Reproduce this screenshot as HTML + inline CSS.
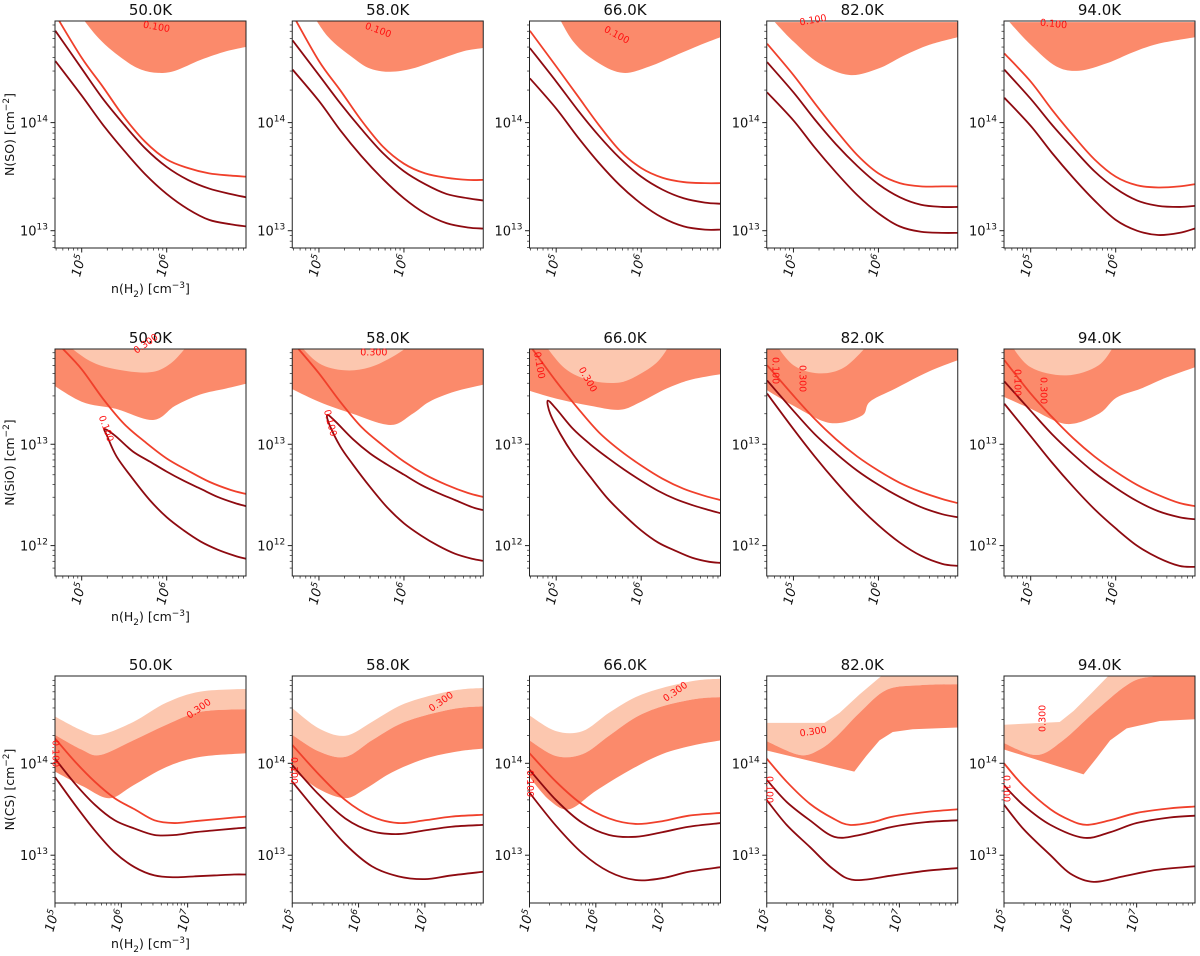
<!DOCTYPE html>
<html><head><meta charset="utf-8">
<style>
html,body{margin:0;padding:0;background:#fff;}
svg{display:block;font-family:"DejaVu Sans","Liberation Sans",sans-serif;}
</style></head>
<body>
<svg id="fig" width="1200" height="956" viewBox="0 0 1200 956" xmlns="http://www.w3.org/2000/svg"></svg>
<script>
// ---------- data ----------
const temps = ["50.0K","58.0K","66.0K","82.0K","94.0K"];
const species = ["SO","SiO","CS"];
const xRanges = [[4.686,6.933],[4.686,6.933],[5,7.88]];
const yRanges = [[12.84,14.94],[11.70,13.94],[12.48,14.95]];
const xTickDecades = [[5,6],[5,6],[5,6,7]];
const yTickDecades = [[13,14],[12,13],[13,14]];

// Row 1 (SO): lines on common grid
const soGrid = [4.69,5.0,5.25,5.5,5.75,6.0,6.25,6.5,6.75,6.93];
const soLight = [
 [15.0,14.6,14.33,14.05,13.82,13.66,13.58,13.53,13.51,13.5],
 [15.0,14.57,14.3,14.02,13.78,13.62,13.53,13.49,13.47,13.47],
 [14.85,14.52,14.25,13.98,13.74,13.58,13.49,13.45,13.44,13.44],
 [14.73,14.44,14.18,13.93,13.7,13.53,13.44,13.41,13.41,13.41],
 [14.64,14.38,14.12,13.88,13.66,13.5,13.42,13.4,13.41,13.43]];
const soMid = [
 [14.85,14.5,14.22,13.98,13.76,13.59,13.47,13.39,13.34,13.31],
 [14.76,14.44,14.18,13.94,13.72,13.55,13.43,13.34,13.3,13.28],
 [14.69,14.38,14.12,13.88,13.67,13.5,13.38,13.3,13.26,13.25],
 [14.56,14.28,14.03,13.8,13.6,13.43,13.31,13.24,13.22,13.22],
 [14.49,14.22,13.98,13.76,13.55,13.39,13.28,13.23,13.22,13.23]];
const soLow = [
 [14.57,14.25,13.98,13.74,13.52,13.34,13.2,13.1,13.06,13.04],
 [14.49,14.2,13.93,13.69,13.48,13.3,13.16,13.07,13.03,13.02],
 [14.41,14.13,13.87,13.63,13.42,13.25,13.12,13.04,13.01,13.01],
 [14.28,14.02,13.77,13.54,13.33,13.16,13.04,12.99,12.98,12.98],
 [14.23,13.97,13.72,13.49,13.28,13.1,13.0,12.96,12.98,13.02]];
const soFillBottom = [
 [[4.88,15.1],[5.2,14.78],[5.5,14.58],[5.7,14.49],[5.9,14.46],[6.1,14.48],[6.4,14.58],[6.7,14.66],[6.93,14.70]],
 [[4.85,15.1],[5.1,14.8],[5.4,14.6],[5.6,14.5],[5.84,14.47],[6.1,14.5],[6.4,14.58],[6.7,14.66],[6.93,14.69]],
 [[4.95,15.1],[5.2,14.75],[5.5,14.55],[5.79,14.46],[6.1,14.52],[6.4,14.62],[6.7,14.72],[6.93,14.79]],
 [[4.78,14.93],[5.0,14.75],[5.3,14.55],[5.66,14.44],[6.0,14.5],[6.3,14.62],[6.6,14.72],[6.93,14.79]],
 [[4.75,14.93],[5.0,14.72],[5.3,14.52],[5.57,14.48],[5.9,14.55],[6.2,14.65],[6.5,14.73],[6.93,14.79]]];
const soFillTop = [15.2,15.2,15.2,14.93,14.93];

// Row 2 (SiO)
const sioLight = [
 [[4.78,13.94],[5.0,13.74],[5.25,13.45],[5.5,13.2],[5.75,13.02],[6.0,12.86],[6.25,12.74],[6.5,12.63],[6.75,12.55],[6.93,12.51]],
 [[4.76,13.94],[5.0,13.7],[5.25,13.42],[5.5,13.17],[5.75,12.99],[6.0,12.83],[6.25,12.7],[6.5,12.6],[6.75,12.52],[6.93,12.48]],
 [[4.72,13.94],[5.0,13.62],[5.25,13.36],[5.5,13.12],[5.75,12.94],[6.0,12.79],[6.25,12.66],[6.5,12.56],[6.75,12.49],[6.93,12.45]],
 [[4.69,13.78],[5.0,13.48],[5.25,13.25],[5.5,13.05],[5.75,12.88],[6.0,12.74],[6.25,12.62],[6.5,12.53],[6.75,12.46],[6.93,12.42]],
 [[4.69,13.83],[5.0,13.5],[5.25,13.27],[5.5,13.06],[5.75,12.88],[6.0,12.73],[6.25,12.6],[6.5,12.5],[6.75,12.42],[6.93,12.39]]];
const sioMid = [
 [[5.27,13.15],[5.4,13.08],[5.6,12.93],[5.8,12.83],[6.0,12.73],[6.2,12.64],[6.4,12.56],[6.6,12.48],[6.8,12.42],[6.93,12.39]],
 [[5.1,13.29],[5.2,13.22],[5.4,13.05],[5.6,12.91],[5.8,12.8],[6.0,12.7],[6.2,12.6],[6.4,12.52],[6.6,12.45],[6.8,12.38],[6.93,12.35]],
 [[4.9,13.43],[5.0,13.35],[5.2,13.15],[5.4,13.0],[5.6,12.87],[5.8,12.75],[6.0,12.64],[6.2,12.54],[6.4,12.46],[6.6,12.4],[6.8,12.35],[6.93,12.32]],
 [[4.69,13.63],[5.0,13.33],[5.25,13.1],[5.5,12.91],[5.75,12.74],[6.0,12.6],[6.25,12.48],[6.5,12.38],[6.75,12.31],[6.93,12.28]],
 [[4.69,13.62],[5.0,13.33],[5.25,13.1],[5.5,12.9],[5.75,12.72],[6.0,12.57],[6.25,12.44],[6.5,12.34],[6.75,12.28],[6.93,12.26]]];
const sioLow = [
 [[5.27,13.15],[5.3,13.08],[5.41,12.88],[5.6,12.66],[5.8,12.45],[6.0,12.28],[6.2,12.15],[6.4,12.04],[6.6,11.96],[6.8,11.9],[6.93,11.87]],
 [[5.1,13.29],[5.12,13.2],[5.25,12.98],[5.4,12.8],[5.6,12.58],[5.8,12.38],[6.0,12.22],[6.2,12.1],[6.4,12.0],[6.6,11.92],[6.8,11.87],[6.93,11.85]],
 [[4.9,13.43],[4.93,13.3],[5.05,13.1],[5.2,12.9],[5.4,12.68],[5.6,12.47],[5.8,12.3],[6.0,12.15],[6.2,12.03],[6.4,11.95],[6.6,11.88],[6.8,11.84],[6.93,11.83]],
 [[4.69,13.5],[5.0,13.15],[5.25,12.88],[5.5,12.63],[5.75,12.4],[6.0,12.2],[6.25,12.03],[6.5,11.9],[6.75,11.82],[6.93,11.8]],
 [[4.69,13.4],[5.0,13.08],[5.25,12.82],[5.5,12.58],[5.75,12.36],[6.0,12.17],[6.25,12.0],[6.5,11.88],[6.75,11.8],[6.93,11.79]]];
const sioDarkBottom = [
 [[4.6,13.62],[5.0,13.42],[5.4,13.35],[5.84,13.24],[6.1,13.38],[6.39,13.49],[6.7,13.55],[7.0,13.61]],
 [[4.6,13.58],[5.0,13.42],[5.4,13.3],[5.84,13.19],[6.1,13.3],[6.3,13.42],[6.6,13.52],[7.0,13.6]],
 [[4.6,13.55],[5.0,13.45],[5.4,13.38],[5.75,13.34],[6.0,13.42],[6.3,13.55],[6.6,13.64],[7.0,13.7]],
 [[4.6,13.58],[5.0,13.38],[5.43,13.21],[5.8,13.28],[5.9,13.42],[6.2,13.55],[6.6,13.72],[7.0,13.85]],
 [[4.6,13.5],[5.0,13.35],[5.42,13.2],[5.8,13.3],[6.01,13.46],[6.3,13.55],[6.6,13.66],[7.0,13.78]]];
const sioLightBottom = [
 [[4.8,14.0],[5.1,13.82],[5.4,13.74],[5.8,13.71],[6.05,13.8],[6.27,14.0]],
 [[4.75,14.0],[5.0,13.8],[5.3,13.73],[5.6,13.76],[5.9,13.88],[6.1,14.0]],
 [[4.85,14.0],[5.1,13.75],[5.4,13.63],[5.75,13.61],[6.0,13.7],[6.2,13.82],[6.35,14.0]],
 [[4.78,14.0],[5.0,13.78],[5.3,13.7],[5.6,13.76],[5.9,14.0]],
 [[4.75,14.0],[5.0,13.76],[5.42,13.68],[5.8,13.78],[6.0,14.0]]];

// Row 3 (CS)
const csLight = [
 [[5,14.27],[5.3,14.02],[5.6,13.8],[5.9,13.62],[6.2,13.5],[6.5,13.38],[6.8,13.35],[7.1,13.37],[7.4,13.39],[7.7,13.41],[7.88,13.42]],
 [[5,14.2],[5.4,13.88],[5.8,13.6],[6.2,13.42],[6.6,13.35],[7.0,13.38],[7.4,13.42],[7.88,13.44]],
 [[5,14.11],[5.4,13.8],[5.8,13.55],[6.2,13.4],[6.6,13.34],[7.0,13.37],[7.4,13.43],[7.88,13.46]],
 [[5,14.05],[5.3,13.8],[5.65,13.56],[6.0,13.4],[6.25,13.33],[6.6,13.36],[6.9,13.42],[7.4,13.47],[7.88,13.5]],
 [[5,14.0],[5.3,13.75],[5.7,13.5],[6.0,13.38],[6.25,13.33],[6.6,13.38],[7.0,13.46],[7.5,13.51],[7.88,13.53]]];
const csMid = [
 [[5,14.05],[5.3,13.78],[5.6,13.55],[5.9,13.38],[6.2,13.29],[6.5,13.22],[6.8,13.22],[7.1,13.25],[7.4,13.27],[7.7,13.29],[7.88,13.3]],
 [[5,13.98],[5.4,13.66],[5.8,13.4],[6.2,13.26],[6.6,13.23],[7.0,13.27],[7.4,13.31],[7.88,13.33]],
 [[5,13.93],[5.4,13.6],[5.8,13.35],[6.2,13.22],[6.6,13.2],[7.0,13.25],[7.4,13.31],[7.88,13.35]],
 [[5,13.82],[5.3,13.58],[5.65,13.38],[6.02,13.2],[6.4,13.22],[6.9,13.31],[7.4,13.36],[7.88,13.38]],
 [[5,13.76],[5.3,13.54],[5.7,13.33],[6.2,13.19],[6.6,13.25],[7.0,13.35],[7.5,13.41],[7.88,13.43]]];
const csLow = [
 [[5,13.85],[5.3,13.55],[5.6,13.27],[5.9,13.03],[6.2,12.87],[6.5,12.78],[6.8,12.76],[7.1,12.77],[7.4,12.78],[7.7,12.79],[7.88,12.79]],
 [[5,13.8],[5.4,13.45],[5.8,13.12],[6.2,12.88],[6.6,12.77],[7.0,12.74],[7.4,12.78],[7.88,12.82]],
 [[5,13.68],[5.4,13.32],[5.8,13.02],[6.2,12.82],[6.6,12.73],[7.0,12.75],[7.4,12.82],[7.88,12.87]],
 [[5,13.6],[5.3,13.33],[5.65,13.09],[6.0,12.85],[6.32,12.73],[6.9,12.78],[7.4,12.83],[7.88,12.86]],
 [[5,13.55],[5.3,13.28],[5.7,13.0],[6.0,12.8],[6.35,12.71],[6.8,12.77],[7.3,12.84],[7.88,12.88]]];
const csLightTop = [
 [[5,14.51],[5.4,14.36],[5.68,14.31],[6.18,14.45],[6.68,14.66],[7.19,14.78],[7.88,14.81]],
 [[5,14.6],[5.4,14.38],[5.8,14.3],[6.2,14.45],[6.6,14.62],[7.0,14.72],[7.5,14.8],[7.88,14.82]],
 [[5,14.52],[5.4,14.35],[5.8,14.35],[6.2,14.55],[6.6,14.72],[7.0,14.82],[7.5,14.9],[7.88,14.92]],
 [[5,14.44],[5.87,14.44],[6.1,14.55],[6.4,14.75],[6.81,15.0],[7.88,15.0]],
 [[5,14.42],[5.84,14.45],[6.05,14.57],[6.3,14.75],[6.64,15.0],[7.88,15.0]]];
const csDarkTop = [
 [[5,14.31],[5.4,14.15],[5.68,14.09],[6.18,14.25],[6.68,14.42],[7.19,14.56],[7.88,14.59]],
 [[5,14.31],[5.4,14.13],[5.8,14.07],[6.2,14.25],[6.6,14.42],[7.0,14.52],[7.5,14.6],[7.88,14.62]],
 [[5,14.25],[5.4,14.08],[5.8,14.1],[6.2,14.3],[6.6,14.5],[7.0,14.62],[7.5,14.7],[7.88,14.72]],
 [[5,14.24],[5.5,14.09],[5.8,14.15],[6.05,14.29],[6.4,14.55],[6.81,14.8],[7.31,14.85],[7.88,14.86]],
 [[5,14.22],[5.49,14.09],[5.89,14.25],[6.35,14.55],[6.85,14.85],[7.2,14.94],[7.88,14.95]]];
const csDarkBottom = [
 [[5,13.91],[5.42,13.75],[5.82,13.62],[6.18,13.76],[6.68,13.96],[7.19,14.07],[7.88,14.11]],
 [[5,13.93],[5.4,13.72],[5.8,13.62],[6.1,13.72],[6.5,13.9],[7.0,14.05],[7.5,14.13],[7.88,14.16]],
 [[5,13.85],[5.3,13.6],[5.6,13.5],[6.0,13.7],[6.5,13.92],[7.0,14.1],[7.5,14.2],[7.88,14.25]],
 [[5,14.14],[6.32,13.91],[6.5,14.08],[6.7,14.25],[6.9,14.34],[7.2,14.37],[7.88,14.39]],
 [[5,14.15],[6.2,13.88],[6.4,14.06],[6.6,14.25],[6.85,14.38],[7.35,14.46],[7.88,14.48]]];

// contour labels: [row, col, x offset, y offset, rotation, text]
const contourLabels = [
 [0,0,88,4,10,"0.100"],[0,1,73,5,20,"0.100"],[0,2,75,8,28,"0.100"],[0,3,33,2,-10,"0.100"],[0,4,36,2,6,"0.100"],
 [1,0,80,3,-35,"0.300"],[1,0,46,67,70,"0.100"],[1,1,68,4,0,"0.300"],[1,1,34,61,75,"0.100"],
 [1,2,7,3,80,"0.100"],[1,2,51,19,60,"0.300"],[1,3,8,8,90,"0.100"],[1,3,35,16,90,"0.300"],
 [1,4,13,20,90,"0.100"],[1,4,39,28,90,"0.300"],
 [2,0,133,41,-35,"0.300"],[2,0,0,64,90,"0.100"],[2,1,138,34,-35,"0.300"],[2,1,1,81,90,"0.100"],
 [2,2,135,24,-35,"0.300"],[2,2,0,94,90,"0.100"],[2,3,33,58,-8,"0.300"],[2,3,2,100,90,"0.100"],
 [2,4,39,56,-90,"0.300"],[2,4,2,99,90,"0.100"]];

// ---------- layout ----------
const NS="http://www.w3.org/2000/svg";
const svg=document.getElementById('fig');
const colL=[55,292.25,529.5,766.75,1004];
const rowT=[21,349,676];
const PW=191, PH=227;
const C_DARKFILL="#fb8a6b", C_LIGHTFILL="#fcc7af", C_LIGHT="#f0402b", C_DARK="#8e0a10";

function el(tag,attrs,parent){const e=document.createElementNS(NS,tag);for(const k in attrs)e.setAttribute(k,attrs[k]);(parent||svg).appendChild(e);return e;}
function smooth(pts){
  if(pts.length<2)return "";
  let d="M"+pts[0][0].toFixed(2)+","+pts[0][1].toFixed(2);
  for(let i=0;i<pts.length-1;i++){
    const p0=pts[Math.max(0,i-1)],p1=pts[i],p2=pts[i+1],p3=pts[Math.min(pts.length-1,i+2)];
    const c1=[p1[0]+(p2[0]-p0[0])/6,p1[1]+(p2[1]-p0[1])/6];
    const c2=[p2[0]-(p3[0]-p1[0])/6,p2[1]-(p3[1]-p1[1])/6];
    d+=" C"+c1[0].toFixed(2)+","+c1[1].toFixed(2)+" "+c2[0].toFixed(2)+","+c2[1].toFixed(2)+" "+p2[0].toFixed(2)+","+p2[1].toFixed(2);
  }
  return d;
}
function linear(pts){return "M"+pts.map(p=>p[0].toFixed(2)+","+p[1].toFixed(2)).join(" L");}
function cont(pts,lin){return (lin?linear(pts):smooth(pts)).replace(/^M/,"L");}

for(let r=0;r<3;r++){
  for(let c=0;c<5;c++){
    const L=colL[c],T=rowT[r];
    const [x0,x1]=xRanges[r],[y0,y1]=yRanges[r];
    const X=v=>L+(v-x0)/(x1-x0)*PW;
    const Y=v=>T+PH-(v-y0)/(y1-y0)*PH;
    const P=a=>a.map(p=>[X(p[0]),Y(p[1])]);
    const g=el('g',{});
    
    
    const cid='clip'+r+'_'+c;
    const cp=el('clipPath',{id:cid},g);
    el('rect',{x:L,y:T,width:PW,height:PH},cp);
    const pg=el('g',{'clip-path':'url(#'+cid+')'},g);

    const topY=Y(y1)-20, xr=X(x1)+20;
    if(r===0){
      const fb=P(soFillBottom[c]);
      const ft=Y(soFillTop[c]);
      const d="M"+fb[0][0]+","+ft+" L"+fb[0][0]+","+fb[0][1]+" "+cont(fb)+" L"+xr+","+fb[fb.length-1][1]+" L"+xr+","+ft+" Z";
      const f=el('path',{d:d,fill:C_DARKFILL},pg);
      
      
    } else if(r===1){
      const db=P(sioDarkBottom[c]);
      const d1="M"+db[0][0]+","+topY+" L"+db[0][0]+","+db[0][1]+" "+cont(db)+" L"+db[db.length-1][0]+","+topY+" Z";
      const f1=el('path',{d:d1,fill:C_DARKFILL},pg);
      
      
      const lb=P(sioLightBottom[c]);
      const d2="M"+lb[0][0]+","+lb[0][1]+" "+cont(lb)+" Z";
      const f2=el('path',{d:d2,fill:C_LIGHTFILL},pg);
      
      
    } else {
      const lin=c>=3;
      const lt=P(csLightTop[c]), dt=P(csDarkTop[c]), dbm=P(csDarkBottom[c]);
      const rev=a=>a.slice().reverse();
      const d1="M"+lt[0][0]+","+lt[0][1]+" "+cont(lt,lin)+" L"+xr+","+lt[lt.length-1][1]+" L"+xr+","+dt[dt.length-1][1]+" "+cont(rev(dt))+" Z";
      const f1=el('path',{d:d1,fill:C_LIGHTFILL},pg);
      
      
      const d2="M"+dt[0][0]+","+dt[0][1]+" "+cont(dt)+" L"+xr+","+dt[dt.length-1][1]+" L"+xr+","+dbm[dbm.length-1][1]+" "+cont(rev(dbm),lin)+" Z";
      const f2=el('path',{d:d2,fill:C_DARKFILL},pg);
      
      
    }
    // lines
    let lines;
    if(r===0){
      const z=a=>soGrid.map((x,i)=>[x,a[i]]);
      lines=[[z(soLow[c]),C_DARK,'line-lower'],[z(soMid[c]),C_DARK,'line-middle'],[z(soLight[c]),C_LIGHT,'line-upper']];
    } else if(r===1){
      if(c<3){
        const loop=sioLow[c].slice().reverse().concat(sioMid[c].slice(1));
        lines=[[loop,C_DARK,'line-lower-loop'],[sioLight[c],C_LIGHT,'line-upper']];
      } else lines=[[sioLow[c],C_DARK,'line-lower'],[sioMid[c],C_DARK,'line-middle'],[sioLight[c],C_LIGHT,'line-upper']];
    } else {
      lines=[[csLow[c],C_DARK,'line-lower'],[csMid[c],C_DARK,'line-middle'],[csLight[c],C_LIGHT,'line-upper']];
    }
    for(const [pts,col,nm] of lines){
      const p=el('path',{d:smooth(P(pts)),fill:'none',stroke:col,'stroke-width':1.8,'stroke-linejoin':'round'},pg);
      
      
    }
    // frame
    const fr=el('rect',{x:L,y:T,width:PW,height:PH,fill:'none',stroke:'#222','stroke-width':1},g);
    
    
    // x ticks
    for(let d=Math.floor(x0);d<=Math.ceil(x1);d++){
      for(let k=1;k<10;k++){
        const v=d+Math.log10(k);
        if(v<x0-1e-6||v>x1+1e-6)continue;
        const px=X(v), len=k===1?4.5:2.5;
        el('line',{x1:px,y1:T+PH,x2:px,y2:T+PH+len,stroke:'#222','stroke-width':k===1?1:0.7},g);
      }
    }
    for(const d of xTickDecades[r]){
      const px=X(d), py=T+PH+8;
      const t=el('text',{x:0,y:0,'font-size':13,'text-anchor':'end','font-style':'italic',transform:'translate('+(px+4)+','+py+') rotate(-75)',fill:'#111'},g);
      
      
      t.appendChild(document.createTextNode('10'));
      const s=el('tspan',{'font-size':9,dy:-5},t); s.textContent=String(d);
    }
    // y ticks
    for(let d=Math.floor(y0);d<=Math.ceil(y1);d++){
      for(let k=1;k<10;k++){
        const v=d+Math.log10(k);
        if(v<y0-1e-6||v>y1+1e-6)continue;
        const py=Y(v), len=k===1?4.5:2.5;
        el('line',{x1:L,y1:py,x2:L-len,y2:py,stroke:'#222','stroke-width':k===1?1:0.7},g);
      }
    }
    for(const d of yTickDecades[r]){
      const py=Y(d);
      const t=el('text',{x:L-7,y:py+5,'font-size':13,'text-anchor':'end',fill:'#111'},g);
      
      
      t.appendChild(document.createTextNode('10'));
      const s=el('tspan',{'font-size':9,dy:-6},t); s.textContent=String(d);
    }
    // title
    const tt=el('text',{x:L+PW/2,y:T-6,'font-size':15,'text-anchor':'middle',fill:'#111'},g);
    
    
    tt.textContent=temps[c];
    if(c===0){
      const yl=el('text',{x:0,y:0,'font-size':12.5,'text-anchor':'middle',transform:'translate(14,'+(T+PH/2)+') rotate(-90)',fill:'#111'},g);
      
      
      yl.appendChild(document.createTextNode('N('+species[r]+') [cm'));
      const s1=el('tspan',{'font-size':9,dy:-5},yl); s1.textContent='\u22122';
      const s2=el('tspan',{dy:5},yl); s2.textContent=']';
      const xlb=el('text',{x:L+PW/2,y:T+PH+45,'font-size':12.5,'text-anchor':'middle',fill:'#111'},g);
      
      
      xlb.appendChild(document.createTextNode('n(H'));
      const a1=el('tspan',{'font-size':9,dy:4},xlb); a1.textContent='2';
      const a2=el('tspan',{dy:-4},xlb); a2.textContent=') [cm';
      const a3=el('tspan',{'font-size':9,dy:-5},xlb); a3.textContent='\u22123';
      const a4=el('tspan',{dy:5},xlb); a4.textContent=']';
    }
  }
}
for(const [r,c,dx,dy,rot,txt] of contourLabels){
  const x=colL[c]+dx, y=rowT[r]+dy;
  const t=el('text',{x:0,y:0,'font-size':9.5,'text-anchor':'start',fill:'#ff1010',transform:'translate('+x+','+y+') rotate('+rot+')','dominant-baseline':'middle'});
  
  
  t.textContent=txt;
}
</script>
</body></html>
